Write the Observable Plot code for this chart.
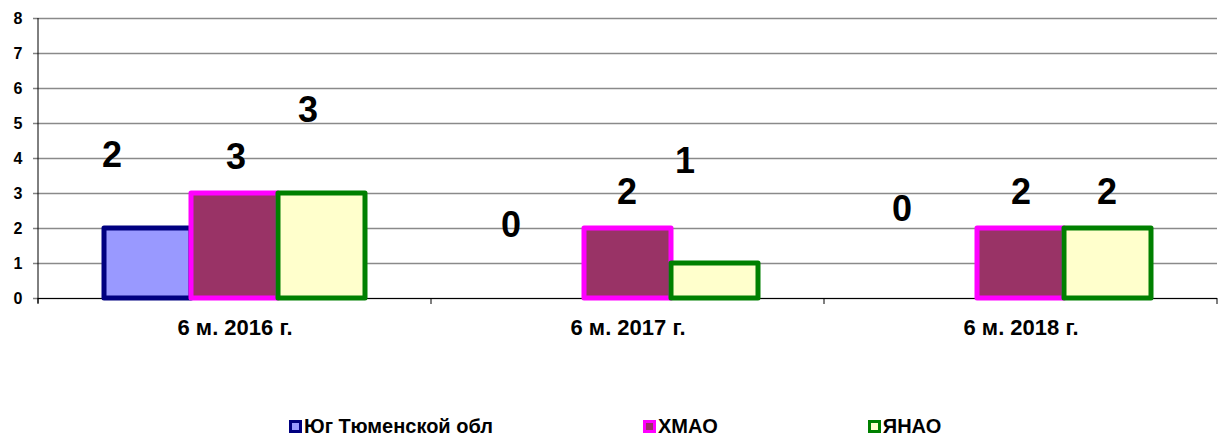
<!DOCTYPE html>
<html>
<head>
<meta charset="utf-8">
<script src="https://cdn.jsdelivr.net/npm/d3@7"></script>
<script src="https://cdn.jsdelivr.net/npm/@observablehq/plot@0.6"></script>
<style>
  html, body { margin: 0; padding: 0; background: #fff; }
  #chart svg { display: block; }
  .legend { display: flex; justify-content: flex-start; gap: 150px; padding-left: 289px; height: 30px; padding-top: 6px; box-sizing: border-box;
    font-family: "Liberation Sans", Arial, sans-serif; font-weight: bold; font-size: 20px; line-height: 24px; color: #000; }
  .legend .item { display: flex; align-items: center; }
  .legend .sw { width: 7px; height: 7px; border: 3px solid; margin-right: 2px; }
</style>
</head>
<body>
<div id="chart"></div>
<div class="legend" id="legend"></div>
<script>
const categories = ["6 м. 2016 г.", "6 м. 2017 г.", "6 м. 2018 г."];
const series = ["Юг Тюменской обл", "ХМАО", "ЯНАО"];
const southValues = [2, 0, 0];
const khmaoValues = [3, 2, 2];
const yanaoValues = [3, 1, 2];
const yTicks = [0, 1, 2, 3, 4, 5, 6, 7, 8];
const fillColors = ["#9999FF", "#993366", "#FFFFCC"];
const strokeColors = ["#000080", "#FF00FF", "#008000"];
// data-label anchors as drawn in the original (in value units) and horizontal shifts (px)
const southLabelY = [4.09, 2.09, 2.54];
const khmaoLabelY = [4.03, 3.03, 3.03];
const yanaoLabelY = [5.37, 3.91, 3.03];
const southLabelShift = [-36, -30, -32];
const khmaoLabelShift = [1, -1, 0];
const yanaoLabelShift = [-14, -30, -1];

const valuesBySeries = [southValues, khmaoValues, yanaoValues];
const labelYBySeries = [southLabelY, khmaoLabelY, yanaoLabelY];
const shiftBySeries = [southLabelShift, khmaoLabelShift, yanaoLabelShift];

const data = categories.flatMap((c, i) => series.map((s, j) => ({
  category: c, series: s, value: valuesBySeries[j][i],
  labelY: labelYBySeries[j][i], shift: shiftBySeries[j][i],
  fillColor: fillColors[j], strokeColor: strokeColors[j]
})));

const chart = Plot.plot({
  width: 1225, height: 408,
  marginLeft: 37, marginRight: 7, marginTop: 18, marginBottom: 110,
  style: { fontFamily: "Liberation Sans, Arial, sans-serif", fontWeight: "bold", background: "white", color: "black", overflow: "visible" },
  fx: { domain: categories, padding: 0, axis: null, label: null },
  x: { domain: series, paddingInner: 0, paddingOuter: 0.74, axis: null },
  y: { domain: [0, 8], axis: null },
  color: { type: "identity" },
  marks: [
    Plot.gridY(yTicks, { stroke: "#8a8a8a", strokeOpacity: 1, strokeWidth: 1.5 }),
    Plot.axisY(yTicks, { tickSize: 5, tickPadding: 11, fontSize: 16, stroke: "#808080", strokeWidth: 1.5, label: null, tickFormat: d => String(d) }),
    Plot.ruleY([0], { stroke: "black", strokeWidth: 1 }),
    Plot.barY(data, { filter: d => d.value > 0, fx: "category", x: "series", y: "value",
      fill: "fillColor", stroke: "strokeColor", strokeWidth: 5, strokeLinejoin: "round" }),
    ...data.map(d => Plot.text([d], { fx: "category", x: "series", y: "labelY",
      text: e => String(e.value), dx: d.shift, fontSize: 36, fontWeight: "bold", fill: "black" })),
    Plot.axisFx({ anchor: "bottom", tickSize: 0, tickPadding: 21, fontSize: 22, label: null })
  ]
});

document.getElementById("chart").appendChild(chart);

// axis line and category boundary ticks, positioned from the plot's own scales
const fxS = chart.scale("fx");
const yS = chart.scale("y");
const svg = d3.select(chart);
const y0 = yS.apply(0), yTop = yS.apply(8);
const left = fxS.apply(categories[0]);
svg.append("line").attr("x1", left).attr("x2", left).attr("y1", yTop).attr("y2", y0 + 5)
  .attr("stroke", "black").attr("stroke-width", 1);
const edges = categories.map(c => fxS.apply(c)).concat([fxS.apply(categories[categories.length - 1]) + fxS.bandwidth]);
edges.forEach(x => {
  svg.append("line").attr("x1", x).attr("x2", x).attr("y1", y0).attr("y2", y0 + 6)
    .attr("stroke", "black").attr("stroke-width", 1);
});

// legend
const legend = document.getElementById("legend");
series.forEach((s, j) => {
  const item = document.createElement("div");
  item.className = "item";
  const sw = document.createElement("span");
  sw.className = "sw";
  sw.style.background = fillColors[j];
  sw.style.borderColor = strokeColors[j];
  item.appendChild(sw);
  item.appendChild(document.createTextNode(s));
  legend.appendChild(item);
});
</script>
</body>
</html>
